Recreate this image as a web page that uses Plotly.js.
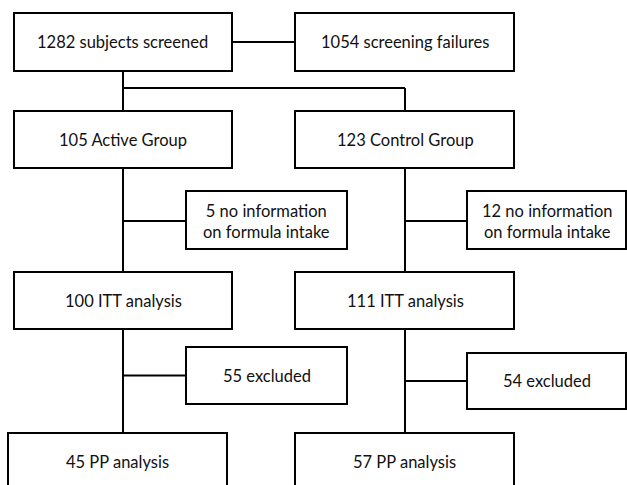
<!DOCTYPE html>
<html>
<head>
<meta charset="utf-8">
<script src="https://cdn.plot.ly/plotly-3.0.1.min.js"></script>
<style>html,body{margin:0;padding:0;background:#fff;}#chart{width:627px;height:485px;}</style>
</head>
<body>
<div id="chart"></div>
<script>
// ---- data ----
const screenedN = 1282;
const failuresN = 1054;
const groupNames = ['Active Group', 'Control Group'];
const groupN = [105, 123];
const noInfoN = [5, 12];
const ittN = [100, 111];
const excludedN = [55, 54];
const ppN = [45, 57];

// ---- geometry (pixel layout of the flowchart) ----
const LW = 2, LC = '#000';
const colX = [123, 405];                       // spine x per arm
const mainBox = [[14, 232], [295, 514]];        // main box x-extent per arm
const sideBox = [[186, 347], [467, 626]];       // side box x-extent per arm
const ppBox = [[8, 227], [295, 514]];
const rows = {
  screen: [13, 71],
  group: [111, 168],
  itt: [272, 329],
  pp: [433, 491]
};
const noInfoY = [[191, 249], [191, 249]];
const exclY = [[347, 404], [353, 409]];

const shapes = [];
const annotations = [];
function rect(x0, x1, y0, y1) {
  shapes.push({type: 'rect', xref: 'x', yref: 'y', x0, x1, y0, y1,
    line: {color: LC, width: LW}, fillcolor: '#fff', layer: 'above'});
}
function line(x0, y0, x1, y1) {
  shapes.push({type: 'line', xref: 'x', yref: 'y', x0, y0, x1, y1,
    line: {color: LC, width: LW}, layer: 'below'});
}
function label(x, y, text) {
  annotations.push({x, y, xref: 'x', yref: 'y', text, showarrow: false,
    xanchor: 'center', yanchor: 'middle',
    font: {family: 'Lato, "Open Sans", sans-serif', size: 16.5, color: '#111'}});
}

// screening row
rect(mainBox[0][0], mainBox[0][1], rows.screen[0], rows.screen[1]);
rect(mainBox[1][0], mainBox[1][1], rows.screen[0], rows.screen[1]);
line(mainBox[0][1], 42, mainBox[1][0], 42);
label(122, 42, screenedN + ' subjects screened');
label(405, 42, failuresN + ' screening failures');
// split
line(colX[0], rows.screen[1], colX[0], rows.group[0]);
line(colX[0], 88, colX[1], 88);
line(colX[1], 88, colX[1], rows.group[0]);

for (let i = 0; i < 2; i++) {
  const cx = colX[i];
  // group box
  rect(mainBox[i][0], mainBox[i][1], rows.group[0], rows.group[1]);
  label(cx, 140, groupN[i] + ' ' + groupNames[i]);
  // spine group -> itt
  line(cx, rows.group[1], cx, rows.itt[0]);
  // no info side box
  rect(sideBox[i][0], sideBox[i][1], noInfoY[i][0], noInfoY[i][1]);
  line(cx, 221, sideBox[i][0], 221);
  label((sideBox[i][0] + sideBox[i][1]) / 2, 221,
    noInfoN[i] + ' no information<br>on formula intake');
  // itt box
  rect(mainBox[i][0], mainBox[i][1], rows.itt[0], rows.itt[1]);
  label(cx, 301, ittN[i] + ' ITT analysis');
  // spine itt -> pp
  line(cx, rows.itt[1], cx, rows.pp[0]);
  // excluded side box
  const ey = (exclY[i][0] + exclY[i][1]) / 2;
  rect(sideBox[i][0], sideBox[i][1], exclY[i][0], exclY[i][1]);
  line(cx, ey, sideBox[i][0], ey);
  label((sideBox[i][0] + sideBox[i][1]) / 2, ey, excludedN[i] + ' excluded');
  // pp box
  rect(ppBox[i][0], ppBox[i][1], rows.pp[0], rows.pp[1]);
  label((ppBox[i][0] + ppBox[i][1]) / 2, 462, ppN[i] + ' PP analysis');
}

const layout = {
  width: 627, height: 485,
  margin: {l: 0, r: 0, t: 0, b: 0},
  paper_bgcolor: '#fff', plot_bgcolor: '#fff',
  xaxis: {range: [0, 627], visible: false, fixedrange: true},
  yaxis: {range: [485, 0], visible: false, fixedrange: true},
  showlegend: false,
  shapes, annotations
};
Plotly.newPlot('chart', [{x: [], y: [], type: 'scatter', mode: 'markers'}], layout,
  {staticPlot: true, displayModeBar: false});
</script>
</body>
</html>
